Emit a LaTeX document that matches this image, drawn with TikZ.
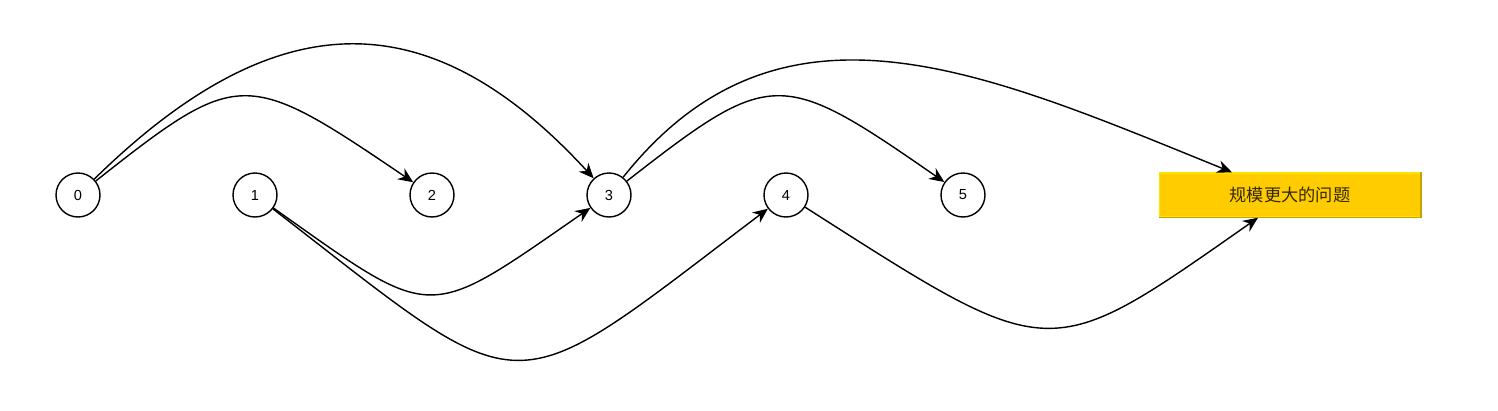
\documentclass[tikz,border=0pt]{standalone}
\usepackage{fontspec}
\setmainfont{Liberation Sans}
\newfontfamily\cjk{Noto Sans CJK SC}
\usetikzlibrary{arrows.meta}
\definecolor{boxfill}{RGB}{255,204,0}
\definecolor{boxline}{RGB}{250,228,0}
\definecolor{boxshade}{RGB}{200,160,0}
\definecolor{boxtext}{RGB}{51,40,0}
\begin{document}
\begin{tikzpicture}[x=0.02cm, y=-0.02cm,
  idx/.style={circle, draw=black, line width=0.8pt, minimum size=0.88cm, inner sep=0pt, font=\fontsize{8.3}{9}\selectfont},
  bigger/.style={rectangle, draw=boxline, line width=0.8pt, fill=boxfill, minimum width=5.22cm, minimum height=0.88cm, text=boxtext, font=\cjk\fontsize{9.8}{11}\selectfont},
  hop/.style={-{Stealth[length=0.3cm, width=0.26cm]}, line width=0.8pt}]
\useasboundingbox (0,0) rectangle (1498,410);
\node[idx] (n0) at (78,195) {0};
\node[idx] (n1) at (255,195) {1};
\node[idx] (n2) at (432,195) {2};
\node[idx] (n3) at (609,195) {3};
\node[idx] (n4) at (786,195) {4};
\node[idx] (n5) at (963,195) {5};
\node[bigger] (big) at (1290,195) {规模更大的问题};
\draw[boxshade, line width=0.8pt] (big.south west) -- (big.south east) -- (big.north east);
% jumps of length 2 and 3
\draw[hop] (n0) .. controls (277,0) and (430,0) .. (n3);
\draw[hop] (n0) .. controls (239,68) and (245,68) .. (n2);
\draw[hop] (n1) .. controls (436,323) and (424,323) .. (n3);
\draw[hop] (n1) .. controls (533,410) and (502,410) .. (n4);
\draw[hop] (n3) .. controls (772,68) and (780,68) .. (n5);
\draw[hop] (n3) .. controls (780,-20) and (980,70) .. ([xshift=-1.16cm]big.north);
\draw[hop] (n4) .. controls (1054,366) and (1046,366) .. ([xshift=-0.64cm]big.south);
\end{tikzpicture}
\end{document}
